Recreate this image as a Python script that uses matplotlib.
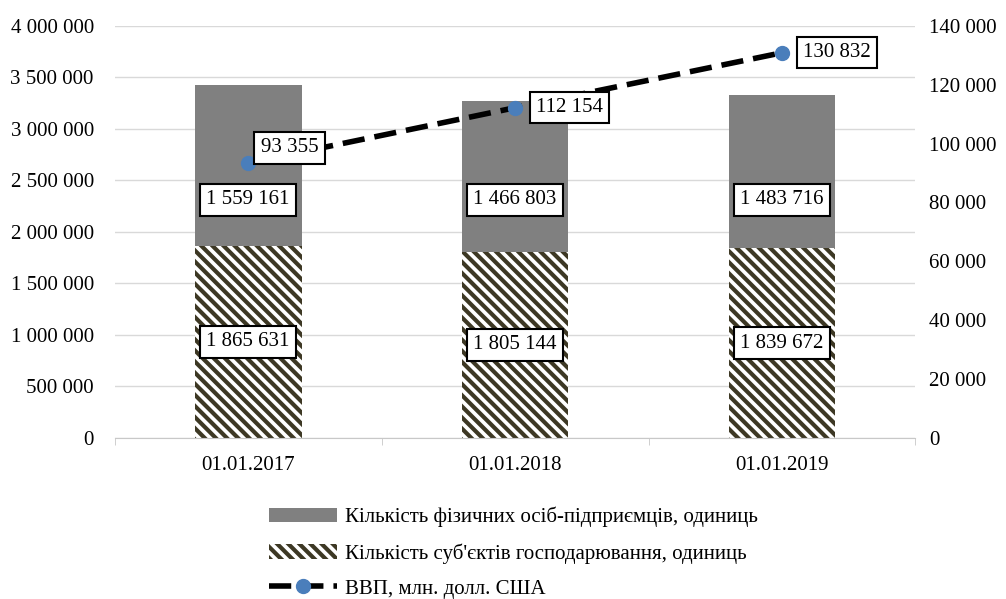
import numpy as np
import matplotlib.pyplot as plt

plt.rcParams["font.family"] = ["Liberation Serif", "DejaVu Serif"]
plt.rcParams["hatch.linewidth"] = 3.0

dates = ["01.01.2017", "01.01.2018", "01.01.2019"]
entities = [1865631, 1805144, 1839672]
entrepreneurs = [1559161, 1466803, 1483716]
gdp = [93355, 112154, 130832]

lbl_entities = "Кількість суб'єктів господарювання, одиниць"
lbl_entrep = "Кількість фізичних осіб-підприємців, одиниць"
lbl_gdp = "ВВП, млн. долл. США"


def fmt(v):
    return f"{v:,.0f}".replace(",", " ")


fs = 15
fig = plt.figure(figsize=(10.06, 5.99), dpi=100)
ax = fig.add_axes([0.114, 0.269, 0.796, 0.688])
ax2 = ax.twinx()

x = np.arange(len(dates))
w = 0.4
b1 = ax.bar(x, entities, w, color="white", edgecolor="#3d3824", hatch="\\\\\\",
            linewidth=0, label=lbl_entities, zorder=2)
b2 = ax.bar(x, entrepreneurs, w, bottom=entities, color="#808080",
            label=lbl_entrep, zorder=2)

box = dict(boxstyle="square,pad=0.3", fc="white", ec="black", lw=1.5)
for i in range(len(dates)):
    ax.text(x[i], entities[i] / 2, fmt(entities[i]), ha="center", va="center",
            fontsize=fs, bbox=box, zorder=5)
    ax.text(x[i], 2310000, fmt(entrepreneurs[i]), ha="center", va="center",
            fontsize=fs, bbox=box, zorder=5)

ln, = ax2.plot(x, gdp, color="black", lw=4, dashes=(4, 1.8), marker="o",
               markersize=10, markerfacecolor="#4a7ebb", markeredgecolor="#4a7ebb",
               label=lbl_gdp, zorder=3)
offs = [(9, 11), (15, 0), (15, 0)]
for i in range(len(dates)):
    ax2.annotate(fmt(gdp[i]), (x[i], gdp[i]), xytext=offs[i], textcoords="offset points",
                 ha="left", va="center", fontsize=fs, bbox=box, zorder=6)

ax.set_xlim(-0.5, 2.5)
ax.set_ylim(0, 4000000)
ax.set_yticks(np.arange(0, 4000001, 500000))
ax.set_yticklabels([fmt(v) for v in np.arange(0, 4000001, 500000)])
ax2.set_ylim(0, 140000)
ax2.set_yticks(np.arange(0, 140001, 20000))
ax2.set_yticklabels([fmt(v) for v in np.arange(0, 140001, 20000)])

ax.set_xticks(x)
ax.set_xticklabels(dates)
ax.set_xticks([-0.5, 0.5, 1.5, 2.5], minor=True)
ax.tick_params(axis="x", which="major", length=0, pad=13, labelsize=fs)
ax.tick_params(axis="x", which="minor", length=5, color="#c8c8c8")
ax.tick_params(axis="y", length=0, labelsize=fs, pad=15)
ax2.tick_params(axis="y", length=0, labelsize=fs, pad=10)

ax.grid(axis="y", color="#d9d9d9", lw=1, zorder=0)
ax.set_axisbelow(True)
for a in (ax, ax2):
    for s in ("top", "left", "right"):
        a.spines[s].set_visible(False)
    a.spines["bottom"].set_color("#c8c8c8")
ax2.spines["bottom"].set_visible(False)

fig.legend([b2, b1, ln], [lbl_entrep, lbl_entities, lbl_gdp], loc="upper center",
           bbox_to_anchor=(0.51, 0.185), frameon=False, fontsize=fs, ncol=1,
           labelspacing=0.75, handlelength=3.3, handletextpad=0.35)

fig.savefig("out.png", dpi=100)
